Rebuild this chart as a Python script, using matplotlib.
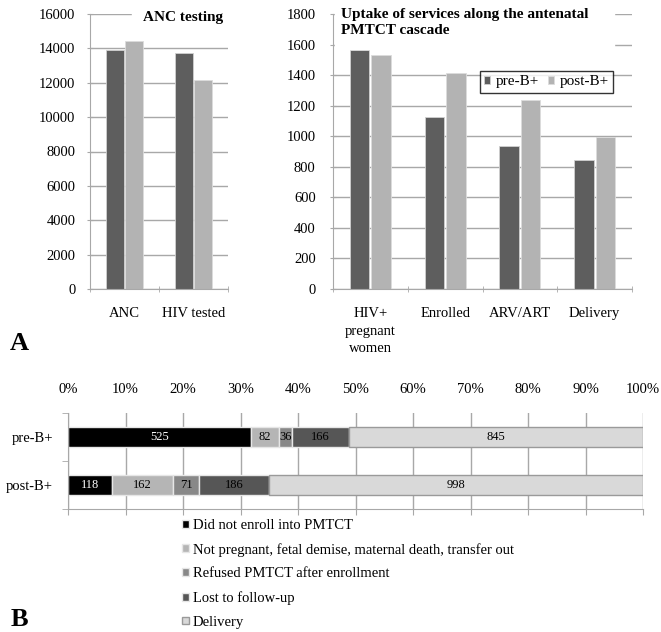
import matplotlib
matplotlib.use("Agg")
import matplotlib.pyplot as plt
from matplotlib.patches import Rectangle
import numpy as np

plt.rcParams['font.family'] = ['Liberation Serif', 'DejaVu Serif']

# ---- datos ----
anc_cats = ["ANC", "HIV tested"]
anc_pre = [13900, 13750]
anc_post = [14450, 12150]

cascade_cats = ["HIV+\npregnant\nwomen", "Enrolled", "ARV/ART", "Delivery"]
cascade_pre = [1563, 1128, 936, 845]
cascade_post = [1531, 1416, 1237, 998]

groups = ["pre-B+", "post-B+"]
did_not_enroll = [525, 118]
not_pregnant = [82, 162]
refused = [36, 71]
lost = [166, 186]
delivery = [845, 998]

outcome_names = ["Did not enroll into PMTCT",
                 "Not pregnant, fetal demise, maternal death, transfer out",
                 "Refused PMTCT after enrollment",
                 "Lost to follow-up",
                 "Delivery"]

DARK = '#5e5e5e'
LIGHT = '#b3b3b3'
GRID = '#a8a8a8'

W, H = 661, 632
fig = plt.figure(figsize=(W / 100, H / 100), dpi=100)


def px_axes(x0, y0, x1, y1):
    # caja en pixeles (origen arriba a la izquierda)
    return fig.add_axes([x0 / W, (H - y1) / H, (x1 - x0) / W, (y1 - y0) / H])


def style_column_axes(ax, ncat, ymax, step, pad):
    ax.set_xlim(-0.5, ncat - 0.5)
    ax.set_ylim(0, ymax)
    ax.set_yticks(np.arange(0, ymax + 1, step))
    ax.set_xticks(np.arange(ncat))
    ax.set_xticks(np.arange(ncat + 1) - 0.5, minor=True)
    ax.yaxis.grid(True, color=GRID, lw=1)
    ax.set_axisbelow(True)
    for s in ['top', 'right']:
        ax.spines[s].set_visible(False)
    for s in ['left', 'bottom']:
        ax.spines[s].set_color(GRID)
    ax.tick_params(axis='y', direction='inout', length=5, color=GRID,
                   labelsize=10.5, pad=pad)
    ax.tick_params(axis='x', which='major', length=0, labelsize=10.5, pad=13)
    ax.tick_params(axis='x', which='minor', direction='inout', length=5,
                   color=GRID)


# ---- panel A izquierda ----
ax1 = px_axes(90, 14, 228, 289)
x = np.arange(len(anc_cats))
ax1.bar(x - 0.14, anc_pre, 0.26, color=DARK, edgecolor='#d0d0d0', lw=0.6)
ax1.bar(x + 0.14, anc_post, 0.26, color=LIGHT, edgecolor='#dcdcdc', lw=0.6)
style_column_axes(ax1, len(anc_cats), 16000, 2000, 8)
ax1.set_xticklabels(anc_cats)
ax1.add_patch(Rectangle(((132 - 90) / 138, (289 - 28) / 275), (230 - 132) / 138,
                        30 / 275, transform=ax1.transAxes, color='white',
                        clip_on=False, zorder=3))
ax1.text((183 - 90) / 138, (289 - 17) / 275, "ANC testing", transform=ax1.transAxes,
         ha='center', va='center', fontsize=11, fontweight='bold', zorder=4)

# ---- panel A derecha ----
ax2 = px_axes(333, 14, 632, 289)
x = np.arange(len(cascade_cats))
b_pre = ax2.bar(x - 0.145, cascade_pre, 0.26, color=DARK, edgecolor='#d0d0d0',
                lw=0.6, label="pre-B+")
b_post = ax2.bar(x + 0.145, cascade_post, 0.26, color=LIGHT, edgecolor='#dcdcdc',
                 lw=0.6, label="post-B+")
style_column_axes(ax2, len(cascade_cats), 1800, 200, 10)
ax2.set_xticklabels(cascade_cats, linespacing=1.45, va='top')
ax2.add_patch(Rectangle((1.5 / 299, (289 - 49) / 275), (613 - 334) / 299,
                        47 / 275, transform=ax2.transAxes, color='white',
                        clip_on=False, zorder=3))
ax2.text(8 / 299, (289 - 8) / 275,
         "Uptake of services along the antenatal\nPMTCT cascade",
         transform=ax2.transAxes, ha='left', va='top', fontsize=11,
         fontweight='bold', linespacing=1.3, zorder=4)
leg = ax2.legend(handles=[b_pre, b_post], loc='center',
                 bbox_to_anchor=((482 - 333) / 299, (289 - 96) / 275,
                                 129 / 299, 28 / 275),
                 ncol=2, fontsize=11, frameon=True, fancybox=False,
                 handlelength=0.4, handleheight=0.4, handletextpad=0.35,
                 columnspacing=0.6, borderpad=0.3, borderaxespad=0)
leg.get_frame().set_edgecolor('black')
leg.get_frame().set_linewidth(1.0)

fig.text(19 / W, 1 - 343 / H, "A", fontsize=19, fontweight='bold',
         ha='center', va='center')

# ---- panel B ----
ax3 = px_axes(68, 413, 643, 509)
series = [did_not_enroll, not_pregnant, refused, lost, delivery]
colors = ['#000000', '#b5b5b5', '#888888', '#565656', '#d9d9d9']
edges = ['#e6e6e6', '#e6e6e6', '#e6e6e6', '#e6e6e6', '#9a9a9a']
txt_colors = ['white', 'black', 'black', 'black', 'black']
totals = np.sum(series, axis=0)
y = np.arange(len(groups))
left = np.zeros(len(groups))
for vals, name, c, ec, tc in zip(series, outcome_names, colors, edges, txt_colors):
    share = np.array(vals) / totals
    bars = ax3.barh(y, share, 0.4, left=left, color=c, edgecolor=ec, lw=1,
                    label=name)
    ax3.bar_label(bars, labels=[str(v) for v in vals], label_type='center',
                  fontsize=9, color=tc)
    left += share

ax3.set_xlim(0, 1)
ax3.set_ylim(len(groups) - 0.5, -0.5)
ax3.set_xticks(np.linspace(0, 1, 11))
ax3.set_xticklabels([f"{int(round(v * 100))}%" for v in np.linspace(0, 1, 11)])
ax3.set_yticks(y)
ax3.set_yticklabels(groups)
ax3.set_yticks(np.arange(len(groups) + 1) - 0.5, minor=True)
ax3.xaxis.grid(True, color=GRID, lw=1)
ax3.set_axisbelow(True)
for s in ['top', 'right']:
    ax3.spines[s].set_visible(False)
for s in ['left', 'bottom']:
    ax3.spines[s].set_color(GRID)
ax3.tick_params(axis='x', top=False, bottom=True, labeltop=True,
                labelbottom=False, direction='out', length=4, color=GRID,
                labelsize=10.5, pad=8)
ax3.tick_params(axis='y', which='major', length=0, labelsize=10.5, pad=11)
ax3.tick_params(axis='y', which='minor', direction='out', length=4, color=GRID)

handles, labels = ax3.get_legend_handles_labels()
fig.legend(handles, labels, loc='upper left',
           bbox_to_anchor=(182 / W, 1 - 519 / H), frameon=False, fontsize=10.5,
           handlelength=0.45, handleheight=0.45, handletextpad=0.3,
           labelspacing=0.74, borderpad=0, borderaxespad=0)

fig.text(19 / W, 1 - 620 / H, "B", fontsize=19, fontweight='bold',
         ha='center', va='center')

fig.savefig("out.png", dpi=100, facecolor='white')
